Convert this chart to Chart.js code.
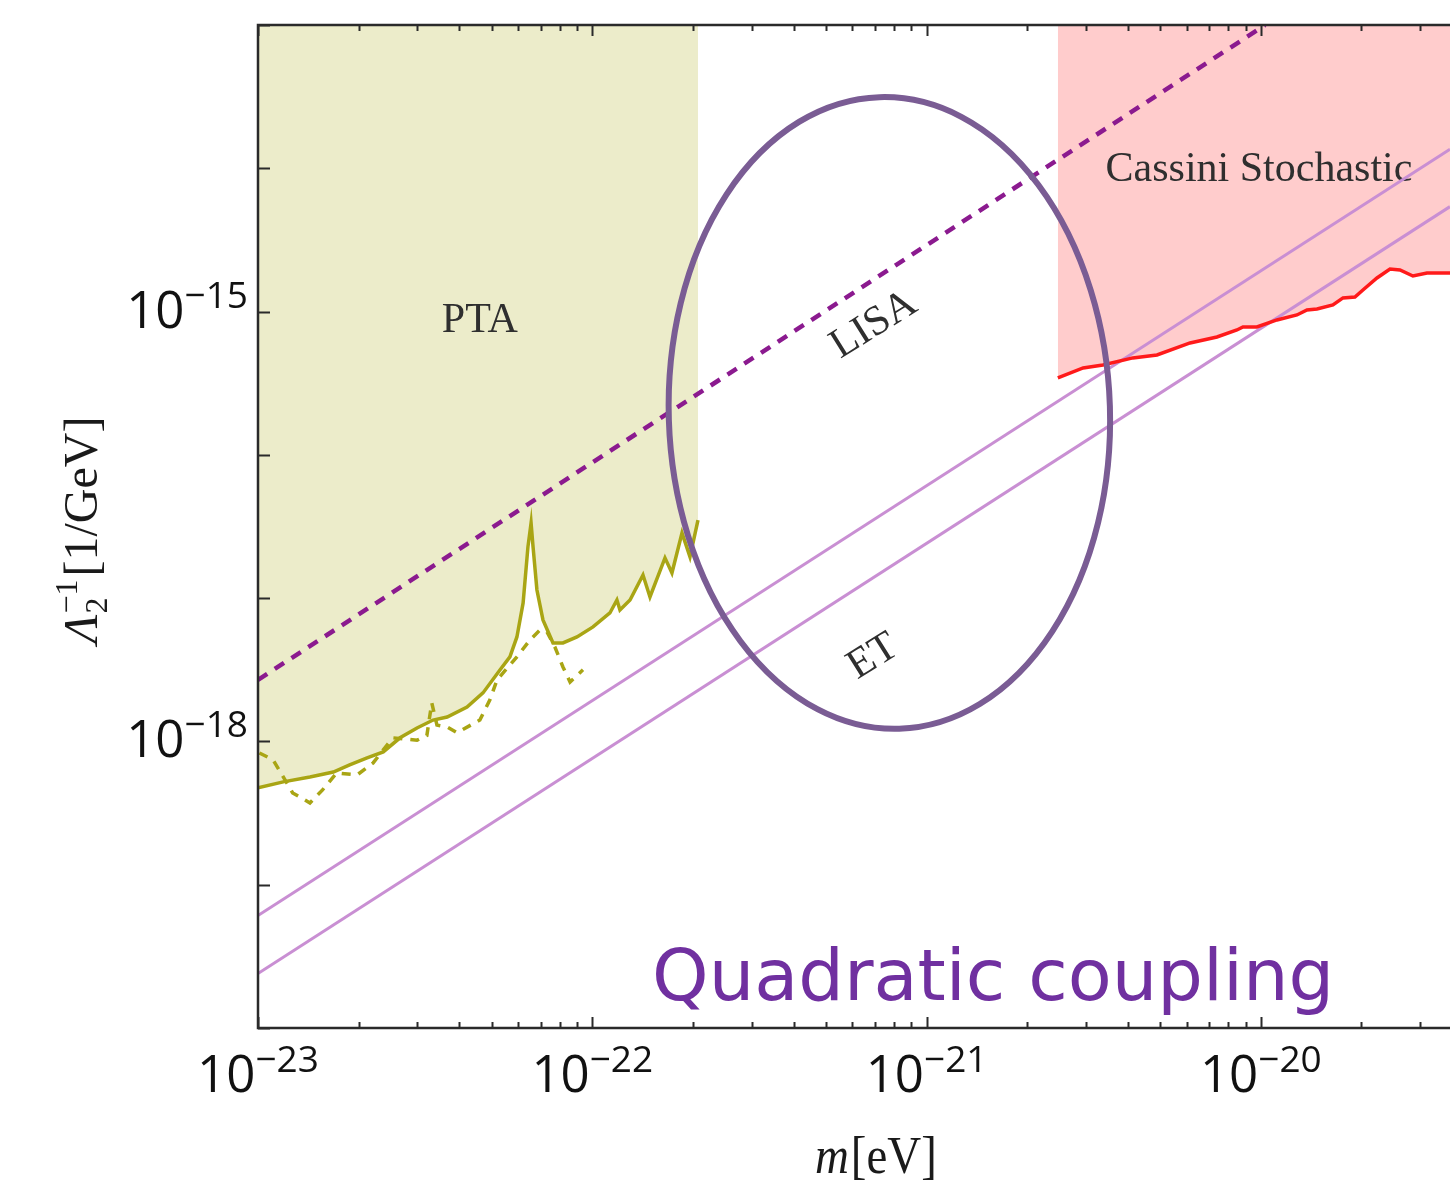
<!DOCTYPE html>
<html>
<head>
<meta charset="utf-8">
<script src="https://cdn.jsdelivr.net/npm/chart.js@4.4.1/dist/chart.umd.min.js"></script>
<style>
html,body{margin:0;padding:0;background:#fff;overflow:hidden}
canvas{display:block}
</style>
</head>
<body>
<canvas id="c" width="1450" height="1188"></canvas>
<script>
// ---- axis ranges & tick labels ----
const X_MIN = 1e-23, X_MAX = 3.68e-20;
const Y_MIN = 1e-20, Y_MAX = 1e-13;
const xLabelExponents = [-23, -22, -21, -20];
const yLabelExponents = [-15, -18];
const yTickExponents = [-20, -19, -18, -17, -16, -15, -14, -13];
const xTitleItalic = 'm', xTitleRest = '[eV]';
const yTitle = {main: '\u039B', sub: '2', sup: '\u22121', rest: '[1/GeV]'};

// ---- PTA (solid boundary, filled above) ----
const ptaSolidM = [1.00e-23,1.19e-23,1.43e-23,1.68e-23,1.88e-23,2.12e-23,2.37e-23,2.66e-23,2.99e-23,3.34e-23,
  3.68e-23,4.22e-23,4.71e-23,5.30e-23,5.67e-23,5.95e-23,6.21e-23,6.42e-23,6.56e-23,6.65e-23,
  6.83e-23,7.12e-23,7.63e-23,8.17e-23,9.00e-23,1.005e-22,1.129e-22,1.185e-22,1.21e-22,1.297e-22,
  1.418e-22,1.488e-22,1.65e-22,1.731e-22,1.855e-22,1.96e-22,2.071e-22];
const ptaSolidL = [4.74e-19,5.22e-19,5.65e-19,6.12e-19,6.85e-19,7.67e-19,8.45e-19,1.06e-18,1.24e-18,1.41e-18,
  1.48e-18,1.74e-18,2.18e-18,3.16e-18,3.89e-18,5.36e-18,9.26e-18,2.28e-17,3.35e-17,2.28e-17,
  1.14e-17,7.05e-18,4.87e-18,4.87e-18,5.36e-18,6.30e-18,7.88e-18,9.71e-18,8.27e-18,9.71e-18,
  1.45e-17,1.02e-17,1.91e-17,1.50e-17,2.85e-17,1.94e-17,3.51e-17];

// ---- PTA (dashed) ----
const ptaDashedM = [1.01e-23,1.11e-23,1.19e-23,1.27e-23,1.43e-23,1.56e-23,1.72e-23,1.98e-23,2.21e-23,2.53e-23,
  2.99e-23,3.2e-23,3.31e-23,3.43e-23,3.68e-23,3.94e-23,4.61e-23,4.94e-23,5.19e-23,5.95e-23,
  6.51e-23,6.98e-23,7.32e-23,7.73e-23,8.17e-23,8.58e-23,9.38e-23];
const ptaDashedL = [8.31e-19,7.43e-19,5.65e-19,4.37e-19,3.72e-19,4.59e-19,6.03e-19,5.84e-19,7.08e-19,1.06e-18,
  1.02e-18,1.1e-18,1.86e-18,1.3e-18,1.26e-18,1.15e-18,1.41e-18,1.95e-18,2.69e-18,3.89e-18,
  5.11e-18,6.00e-18,5.81e-18,4.56e-18,3.31e-18,2.60e-18,3.16e-18];

// ---- Cassini stochastic (filled above) ----
const cassiniM = [2.47e-21,2.94e-21,3.37e-21,4.14e-21,4.89e-21,6.14e-21,7.39e-21,8.48e-21,8.84e-21,9.73e-21,
  1.117e-20,1.282e-20,1.374e-20,1.472e-20,1.643e-20,1.761e-20,1.912e-20,2.02e-20,2.225e-20,2.434e-20,
  2.607e-20,2.851e-20,3.14e-20,3.68e-20];
const cassiniL = [3.44e-16,4.04e-16,4.24e-16,4.75e-16,4.98e-16,6.04e-16,6.65e-16,7.44e-16,7.81e-16,7.81e-16,
  8.74e-16,9.47e-16,1.026e-15,1.043e-15,1.112e-15,1.245e-15,1.265e-15,1.415e-15,1.716e-15,1.983e-15,
  1.952e-15,1.772e-15,1.859e-15,1.859e-15];

// ---- straight sensitivity lines ----
const lisaM = [1e-23, 1.03e-20];
const lisaL = [2.69e-18, 1e-13];
const line1M = [1e-23, 3.68e-20];
const line1L = [6.1e-20, 1.36e-14];
const line2M = [1e-23, 3.68e-20];
const line2L = [2.4e-20, 5.4e-15];

// ---- annotations (data coordinates) ----
const regionLabels = [
  {text: 'PTA', m: 4.61e-23, l: 8.6e-16, rot: 0},
  {text: 'Cassini Stochastic', m: 9.87e-21, l: 9.73e-15, rot: 0},
  {text: 'LISA', m: 6.96e-22, l: 8.06e-16, rot: -32},
  {text: 'ET', m: 6.92e-22, l: 3.89e-18, rot: -32}
];
const ellipseCenter = [7.74e-22, 1.96e-16];
const ellipseHalfDecades = [0.66, 2.205];
const ellipseTiltDeg = -1.8;
const bannerText = 'Quadratic coupling';
const bannerPos = [1.51e-22, 1.57e-20];

const zip = (a, b) => a.map((v, i) => ({x: v, y: b[i]}));

const OLIVE = '#a9a514';
const TICKFONT = '"Open Sans", "Liberation Sans", sans-serif';
const SERIF = '"Liberation Serif", "DejaVu Serif", serif';

function drawPow(ctx, exp, x, y, align) {
  const base = '10', sup = '\u2212' + Math.abs(exp);
  ctx.font = '51px ' + TICKFONT; const wb = ctx.measureText(base).width;
  ctx.font = '37px ' + TICKFONT; const ws = ctx.measureText(sup).width;
  const total = wb + ws;
  const x0 = align === 'center' ? x - total / 2 : x - total;
  ctx.textAlign = 'left'; ctx.textBaseline = 'alphabetic';
  ctx.font = '51px ' + TICKFONT; ctx.fillText(base, x0, y);
  ctx.font = '37px ' + TICKFONT; ctx.fillText(sup, x0 + wb, y - 20);
}

const decor = {
  id: 'decor',
  beforeDatasetsDraw(chart) {
    const {ctx, scales: {x, y}} = chart;
    ctx.save();
    ctx.fillStyle = '#2f2f2f';
    ctx.font = '42px ' + SERIF;
    ctx.textAlign = 'center'; ctx.textBaseline = 'middle';
    regionLabels.forEach(r => {
      ctx.save();
      ctx.translate(x.getPixelForValue(r.m), y.getPixelForValue(r.l));
      ctx.rotate(r.rot * Math.PI / 180);
      ctx.fillText(r.text, 0, 0);
      ctx.restore();
    });
    ctx.restore();
  },
  afterDatasetsDraw(chart) {
    const {ctx, scales: {x, y}} = chart;
    const cx = x.getPixelForValue(ellipseCenter[0]);
    const cy = y.getPixelForValue(ellipseCenter[1]);
    const rx = x.getPixelForValue(ellipseCenter[0] * Math.pow(10, ellipseHalfDecades[0])) - cx;
    const ry = cy - y.getPixelForValue(ellipseCenter[1] * Math.pow(10, ellipseHalfDecades[1]));
    ctx.save();
    ctx.beginPath();
    ctx.ellipse(cx, cy, rx, ry, ellipseTiltDeg * Math.PI / 180, 0, Math.PI * 2);
    ctx.lineWidth = 6; ctx.strokeStyle = '#7a5c94';
    ctx.stroke();
    ctx.restore();
  },
  afterDraw(chart) {
    const {ctx, chartArea: ca, scales: {x, y}} = chart;
    ctx.save();
    // banner text
    ctx.fillStyle = '#7030a0';
    ctx.font = '72px "DejaVu Sans", sans-serif';
    const bw = ctx.measureText(bannerText).width;
    const bx = x.getPixelForValue(bannerPos[0]), by = y.getPixelForValue(bannerPos[1]);
    ctx.textAlign = 'left'; ctx.textBaseline = 'alphabetic';
    ctx.save(); ctx.translate(bx, by); ctx.scale(682 / bw, 1); ctx.fillText(bannerText, 0, 0); ctx.restore();

    // frame
    ctx.strokeStyle = '#2a2a2a'; ctx.lineWidth = 2.5; ctx.lineCap = 'butt';
    ctx.beginPath();
    ctx.moveTo(ca.right + 2, ca.top); ctx.lineTo(ca.left, ca.top);
    ctx.lineTo(ca.left, ca.bottom); ctx.lineTo(ca.right + 2, ca.bottom);
    ctx.stroke();
    // x ticks (bottom & top, inward)
    ctx.lineWidth = 2;
    ctx.beginPath();
    for (let d = -23; d <= -20; d++) {
      for (let k = 1; k <= 9; k++) {
        const v = k * Math.pow(10, d);
        if (v < X_MIN * 0.999 || v > X_MAX) continue;
        const px = Math.round(x.getPixelForValue(v)) + 0.5;
        const len = k === 1 ? 11 : 6;
        ctx.moveTo(px, ca.bottom); ctx.lineTo(px, ca.bottom - len);
        ctx.moveTo(px, ca.top); ctx.lineTo(px, ca.top + len);
      }
    }
    // y ticks (left, inward)
    yTickExponents.forEach(e => {
      const py = Math.round(y.getPixelForValue(Math.pow(10, e))) + 0.5;
      ctx.moveTo(ca.left, py); ctx.lineTo(ca.left + 12, py);
    });
    ctx.stroke();

    // tick labels
    ctx.fillStyle = '#111';
    xLabelExponents.forEach(e => drawPow(ctx, e, x.getPixelForValue(Math.pow(10, e)), ca.bottom + 64, 'center'));
    yLabelExponents.forEach(e => drawPow(ctx, e, ca.left - 10, y.getPixelForValue(Math.pow(10, e)) + 16, 'right'));

    // x title
    ctx.fillStyle = '#1a1a1a';
    ctx.textBaseline = 'alphabetic'; ctx.textAlign = 'left';
    ctx.font = 'italic 52px ' + SERIF; const wm = ctx.measureText(xTitleItalic).width;
    ctx.font = '52px ' + SERIF; const wr = ctx.measureText(xTitleRest).width;
    const sx = 120 / (wm + wr);
    ctx.save();
    ctx.translate(875 - 60, 1173); ctx.scale(sx, 1);
    ctx.font = 'italic 52px ' + SERIF; ctx.fillText(xTitleItalic, 0, 0);
    ctx.font = '52px ' + SERIF; ctx.fillText(xTitleRest, wm + 2, 0);
    ctx.restore();

    // y title (rotated)
    ctx.save();
    ctx.translate(97, 530); ctx.rotate(-Math.PI / 2);
    ctx.font = 'italic 48px ' + SERIF; const wL = ctx.measureText(yTitle.main).width;
    ctx.font = '32px ' + SERIF; const wSup = ctx.measureText(yTitle.sup).width;
    ctx.font = '48px ' + SERIF; const wRest = ctx.measureText(yTitle.rest).width;
    const tot = wL + wSup + 4 + wRest;
    let tx = -tot / 2;
    ctx.font = 'italic 48px ' + SERIF; ctx.fillText(yTitle.main, tx, 0); tx += wL + 1;
    ctx.font = '32px ' + SERIF;
    ctx.fillText(yTitle.sup, tx, -20);
    ctx.fillText(yTitle.sub, tx, 10);
    tx += wSup + 3;
    ctx.font = '48px ' + SERIF; ctx.fillText(yTitle.rest, tx, 0);
    ctx.restore();

    ctx.restore();
  }
};

new Chart(document.getElementById('c'), {
  type: 'line',
  data: {
    datasets: [
      {data: zip(cassiniM, cassiniL), borderColor: '#ff1a1a', borderWidth: 3.5, fill: 'end', backgroundColor: '#ffcccc'},
      {data: zip(ptaSolidM, ptaSolidL), borderColor: OLIVE, borderWidth: 3.5, fill: 'end', backgroundColor: '#ececca'},
      {data: zip(ptaDashedM, ptaDashedL), borderColor: OLIVE, borderWidth: 3.5, borderDash: [9, 8], fill: false},
      {data: zip(lisaM, lisaL), borderColor: '#8b1a8f', borderWidth: 4.5, borderDash: [11, 9], fill: false},
      {data: zip(line1M, line1L), borderColor: '#c98fd3', borderWidth: 3, fill: false},
      {data: zip(line2M, line2L), borderColor: '#c98fd3', borderWidth: 3, fill: false}
    ]
  },
  options: {
    responsive: false,
    animation: false,
    devicePixelRatio: 1,
    layout: {padding: {left: 258, top: 25, right: 0, bottom: 160}},
    elements: {point: {radius: 0}, line: {tension: 0}},
    scales: {
      x: {type: 'logarithmic', min: X_MIN, max: X_MAX, display: false},
      y: {type: 'logarithmic', min: Y_MIN, max: Y_MAX, display: false}
    },
    plugins: {
      legend: {display: false},
      tooltip: {enabled: false},
      filler: {drawTime: 'beforeDatasetsDraw'}
    }
  },
  plugins: [decor]
});
</script>
</body>
</html>
